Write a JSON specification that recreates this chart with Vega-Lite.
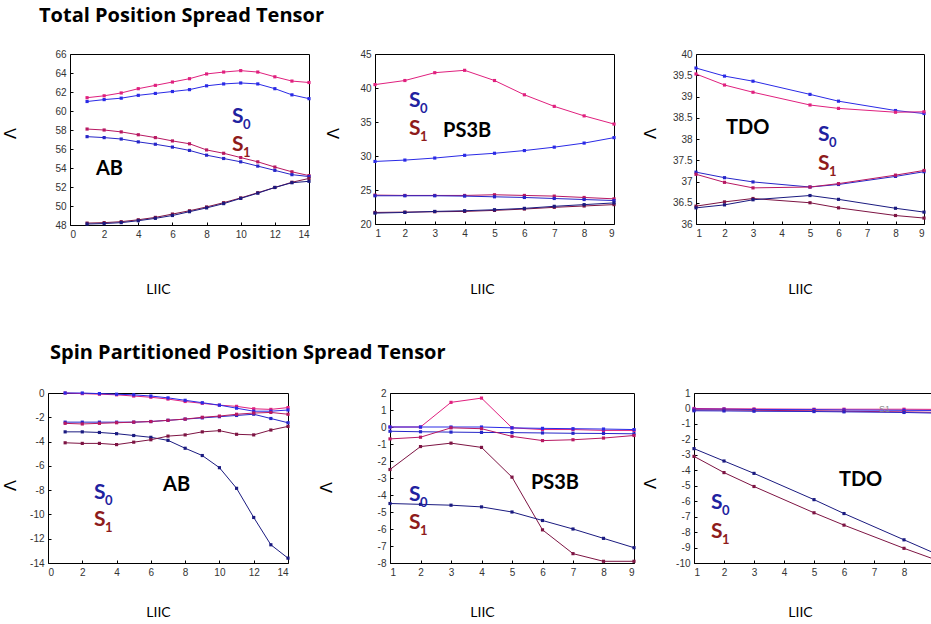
{
"$schema": "https://vega.github.io/schema/vega-lite/v6.json",
"padding": {"left": 1, "top": 5, "right": 0, "bottom": 0},
"background": "white",
"config": {
 "view": {"stroke": "#000", "strokeWidth": 1},
 "axis": {"domain": false, "grid": false, "labelFont": "Liberation Sans", "labelFontSize": 10, "labelColor": "#333", "tickColor": "#000", "tickSize": -3, "labelPadding": 7, "labelExpr": "replace(datum.label, '−', '-')"},
 "axisX": {"titleFont": "Lato", "titleFontSize": 14, "titleFontWeight": "normal", "titleColor": "#000", "titleBaseline": "middle", "titleAlign": "center"},
 "axisY": {"titleFont": "DejaVu Sans", "titleFontSize": 16, "titleFontWeight": "normal", "titleColor": "#000", "titleBaseline": "middle", "titleAlign": "center", "titleAngle": -90}
},
"datasets": {
"lines": [
{"p":"P1","l":"S1-1","x":1,"y":61.4},{"p":"P1","l":"S1-1","x":2,"y":61.6},{"p":"P1","l":"S1-1","x":3,"y":61.9},{"p":"P1","l":"S1-1","x":4,"y":62.35},{"p":"P1","l":"S1-1","x":5,"y":62.7},{"p":"P1","l":"S1-1","x":6,"y":63.05},{"p":"P1","l":"S1-1","x":7,"y":63.4},{"p":"P1","l":"S1-1","x":8,"y":63.9},{"p":"P1","l":"S1-1","x":9,"y":64.1},{"p":"P1","l":"S1-1","x":10,"y":64.25},{"p":"P1","l":"S1-1","x":11,"y":64.1},{"p":"P1","l":"S1-1","x":12,"y":63.6},{"p":"P1","l":"S1-1","x":13,"y":63.15},{"p":"P1","l":"S1-1","x":14,"y":63.0},
{"p":"P1","l":"S0-1","x":1,"y":61.0},{"p":"P1","l":"S0-1","x":2,"y":61.2},{"p":"P1","l":"S0-1","x":3,"y":61.35},{"p":"P1","l":"S0-1","x":4,"y":61.65},{"p":"P1","l":"S0-1","x":5,"y":61.85},{"p":"P1","l":"S0-1","x":6,"y":62.05},{"p":"P1","l":"S0-1","x":7,"y":62.25},{"p":"P1","l":"S0-1","x":8,"y":62.65},{"p":"P1","l":"S0-1","x":9,"y":62.85},{"p":"P1","l":"S0-1","x":10,"y":62.95},{"p":"P1","l":"S0-1","x":11,"y":62.85},{"p":"P1","l":"S0-1","x":12,"y":62.35},{"p":"P1","l":"S0-1","x":13,"y":61.7},{"p":"P1","l":"S0-1","x":14,"y":61.3},
{"p":"P1","l":"S1-2","x":1,"y":58.1},{"p":"P1","l":"S1-2","x":2,"y":58.0},{"p":"P1","l":"S1-2","x":3,"y":57.8},{"p":"P1","l":"S1-2","x":4,"y":57.5},{"p":"P1","l":"S1-2","x":5,"y":57.2},{"p":"P1","l":"S1-2","x":6,"y":56.85},{"p":"P1","l":"S1-2","x":7,"y":56.55},{"p":"P1","l":"S1-2","x":8,"y":55.9},{"p":"P1","l":"S1-2","x":9,"y":55.55},{"p":"P1","l":"S1-2","x":10,"y":55.1},{"p":"P1","l":"S1-2","x":11,"y":54.65},{"p":"P1","l":"S1-2","x":12,"y":54.1},{"p":"P1","l":"S1-2","x":13,"y":53.6},{"p":"P1","l":"S1-2","x":14,"y":53.2},
{"p":"P1","l":"S0-2","x":1,"y":57.3},{"p":"P1","l":"S0-2","x":2,"y":57.2},{"p":"P1","l":"S0-2","x":3,"y":57.05},{"p":"P1","l":"S0-2","x":4,"y":56.75},{"p":"P1","l":"S0-2","x":5,"y":56.5},{"p":"P1","l":"S0-2","x":6,"y":56.2},{"p":"P1","l":"S0-2","x":7,"y":55.85},{"p":"P1","l":"S0-2","x":8,"y":55.35},{"p":"P1","l":"S0-2","x":9,"y":55.0},{"p":"P1","l":"S0-2","x":10,"y":54.65},{"p":"P1","l":"S0-2","x":11,"y":54.2},{"p":"P1","l":"S0-2","x":12,"y":53.75},{"p":"P1","l":"S0-2","x":13,"y":53.3},{"p":"P1","l":"S0-2","x":14,"y":53.1},
{"p":"P1","l":"S1-3","x":1,"y":48.2},{"p":"P1","l":"S1-3","x":2,"y":48.25},{"p":"P1","l":"S1-3","x":3,"y":48.35},{"p":"P1","l":"S1-3","x":4,"y":48.55},{"p":"P1","l":"S1-3","x":5,"y":48.8},{"p":"P1","l":"S1-3","x":6,"y":49.15},{"p":"P1","l":"S1-3","x":7,"y":49.5},{"p":"P1","l":"S1-3","x":8,"y":49.9},{"p":"P1","l":"S1-3","x":9,"y":50.35},{"p":"P1","l":"S1-3","x":10,"y":50.85},{"p":"P1","l":"S1-3","x":11,"y":51.4},{"p":"P1","l":"S1-3","x":12,"y":51.95},{"p":"P1","l":"S1-3","x":13,"y":52.5},{"p":"P1","l":"S1-3","x":14,"y":52.9},
{"p":"P1","l":"S0-3","x":1,"y":48.1},{"p":"P1","l":"S0-3","x":2,"y":48.15},{"p":"P1","l":"S0-3","x":3,"y":48.25},{"p":"P1","l":"S0-3","x":4,"y":48.45},{"p":"P1","l":"S0-3","x":5,"y":48.7},{"p":"P1","l":"S0-3","x":6,"y":49.0},{"p":"P1","l":"S0-3","x":7,"y":49.4},{"p":"P1","l":"S0-3","x":8,"y":49.8},{"p":"P1","l":"S0-3","x":9,"y":50.25},{"p":"P1","l":"S0-3","x":10,"y":50.8},{"p":"P1","l":"S0-3","x":11,"y":51.35},{"p":"P1","l":"S0-3","x":12,"y":51.95},{"p":"P1","l":"S0-3","x":13,"y":52.45},{"p":"P1","l":"S0-3","x":14,"y":52.6},

{"p":"P2","l":"S1-1","x":1,"y":40.5},{"p":"P2","l":"S1-1","x":2,"y":41.1},{"p":"P2","l":"S1-1","x":3,"y":42.25},{"p":"P2","l":"S1-1","x":4,"y":42.6},{"p":"P2","l":"S1-1","x":5,"y":41.1},{"p":"P2","l":"S1-1","x":6,"y":39.0},{"p":"P2","l":"S1-1","x":7,"y":37.3},{"p":"P2","l":"S1-1","x":8,"y":35.9},{"p":"P2","l":"S1-1","x":9,"y":34.7},
{"p":"P2","l":"S0-1","x":1,"y":29.2},{"p":"P2","l":"S0-1","x":2,"y":29.4},{"p":"P2","l":"S0-1","x":3,"y":29.7},{"p":"P2","l":"S0-1","x":4,"y":30.1},{"p":"P2","l":"S0-1","x":5,"y":30.4},{"p":"P2","l":"S0-1","x":6,"y":30.8},{"p":"P2","l":"S0-1","x":7,"y":31.3},{"p":"P2","l":"S0-1","x":8,"y":31.9},{"p":"P2","l":"S0-1","x":9,"y":32.7},
{"p":"P2","l":"S1-2","x":1,"y":24.25},{"p":"P2","l":"S1-2","x":2,"y":24.2},{"p":"P2","l":"S1-2","x":3,"y":24.2},{"p":"P2","l":"S1-2","x":4,"y":24.2},{"p":"P2","l":"S1-2","x":5,"y":24.3},{"p":"P2","l":"S1-2","x":6,"y":24.2},{"p":"P2","l":"S1-2","x":7,"y":24.1},{"p":"P2","l":"S1-2","x":8,"y":23.9},{"p":"P2","l":"S1-2","x":9,"y":23.7},
{"p":"P2","l":"S0-2","x":1,"y":24.15},{"p":"P2","l":"S0-2","x":2,"y":24.15},{"p":"P2","l":"S0-2","x":3,"y":24.15},{"p":"P2","l":"S0-2","x":4,"y":24.1},{"p":"P2","l":"S0-2","x":5,"y":24.0},{"p":"P2","l":"S0-2","x":6,"y":23.9},{"p":"P2","l":"S0-2","x":7,"y":23.75},{"p":"P2","l":"S0-2","x":8,"y":23.6},{"p":"P2","l":"S0-2","x":9,"y":23.45},
{"p":"P2","l":"S1-3","x":1,"y":21.7},{"p":"P2","l":"S1-3","x":2,"y":21.75},{"p":"P2","l":"S1-3","x":3,"y":21.8},{"p":"P2","l":"S1-3","x":4,"y":21.85},{"p":"P2","l":"S1-3","x":5,"y":22.0},{"p":"P2","l":"S1-3","x":6,"y":22.2},{"p":"P2","l":"S1-3","x":7,"y":22.45},{"p":"P2","l":"S1-3","x":8,"y":22.65},{"p":"P2","l":"S1-3","x":9,"y":22.85},
{"p":"P2","l":"S0-3","x":1,"y":21.6},{"p":"P2","l":"S0-3","x":2,"y":21.7},{"p":"P2","l":"S0-3","x":3,"y":21.85},{"p":"P2","l":"S0-3","x":4,"y":21.95},{"p":"P2","l":"S0-3","x":5,"y":22.1},{"p":"P2","l":"S0-3","x":6,"y":22.3},{"p":"P2","l":"S0-3","x":7,"y":22.6},{"p":"P2","l":"S0-3","x":8,"y":22.85},{"p":"P2","l":"S0-3","x":9,"y":23.1},

{"p":"P3","l":"S0-1","x":1,"y":39.67},{"p":"P3","l":"S0-1","x":2,"y":39.48},{"p":"P3","l":"S0-1","x":3,"y":39.36},{"p":"P3","l":"S0-1","x":5,"y":39.05},{"p":"P3","l":"S0-1","x":6,"y":38.89},{"p":"P3","l":"S0-1","x":8,"y":38.67},{"p":"P3","l":"S0-1","x":9,"y":38.6},
{"p":"P3","l":"S1-1","x":1,"y":39.53},{"p":"P3","l":"S1-1","x":2,"y":39.27},{"p":"P3","l":"S1-1","x":3,"y":39.1},{"p":"P3","l":"S1-1","x":5,"y":38.8},{"p":"P3","l":"S1-1","x":6,"y":38.72},{"p":"P3","l":"S1-1","x":8,"y":38.63},{"p":"P3","l":"S1-1","x":9,"y":38.64},
{"p":"P3","l":"S0-2","x":1,"y":37.22},{"p":"P3","l":"S0-2","x":2,"y":37.09},{"p":"P3","l":"S0-2","x":3,"y":36.99},{"p":"P3","l":"S0-2","x":5,"y":36.87},{"p":"P3","l":"S0-2","x":6,"y":36.93},{"p":"P3","l":"S0-2","x":8,"y":37.12},{"p":"P3","l":"S0-2","x":9,"y":37.23},
{"p":"P3","l":"S1-2","x":1,"y":37.17},{"p":"P3","l":"S1-2","x":2,"y":36.98},{"p":"P3","l":"S1-2","x":3,"y":36.85},{"p":"P3","l":"S1-2","x":5,"y":36.87},{"p":"P3","l":"S1-2","x":6,"y":36.95},{"p":"P3","l":"S1-2","x":8,"y":37.15},{"p":"P3","l":"S1-2","x":9,"y":37.26},
{"p":"P3","l":"S1-3","x":1,"y":36.42},{"p":"P3","l":"S1-3","x":2,"y":36.52},{"p":"P3","l":"S1-3","x":3,"y":36.6},{"p":"P3","l":"S1-3","x":5,"y":36.5},{"p":"P3","l":"S1-3","x":6,"y":36.38},{"p":"P3","l":"S1-3","x":8,"y":36.2},{"p":"P3","l":"S1-3","x":9,"y":36.14},
{"p":"P3","l":"S0-3","x":1,"y":36.38},{"p":"P3","l":"S0-3","x":2,"y":36.45},{"p":"P3","l":"S0-3","x":3,"y":36.57},{"p":"P3","l":"S0-3","x":5,"y":36.67},{"p":"P3","l":"S0-3","x":6,"y":36.58},{"p":"P3","l":"S0-3","x":8,"y":36.37},{"p":"P3","l":"S0-3","x":9,"y":36.28},

{"p":"P4","l":"S1-1","x":1,"y":0},{"p":"P4","l":"S1-1","x":2,"y":-0.05},{"p":"P4","l":"S1-1","x":3,"y":-0.1},{"p":"P4","l":"S1-1","x":4,"y":-0.15},{"p":"P4","l":"S1-1","x":5,"y":-0.25},{"p":"P4","l":"S1-1","x":6,"y":-0.35},{"p":"P4","l":"S1-1","x":7,"y":-0.5},{"p":"P4","l":"S1-1","x":8,"y":-0.7},{"p":"P4","l":"S1-1","x":9,"y":-0.85},{"p":"P4","l":"S1-1","x":10,"y":-1.0},{"p":"P4","l":"S1-1","x":11,"y":-1.1},{"p":"P4","l":"S1-1","x":12,"y":-1.3},{"p":"P4","l":"S1-1","x":13,"y":-1.35},{"p":"P4","l":"S1-1","x":14,"y":-1.2},
{"p":"P4","l":"S0-1","x":1,"y":0},{"p":"P4","l":"S0-1","x":2,"y":0},{"p":"P4","l":"S0-1","x":3,"y":-0.05},{"p":"P4","l":"S0-1","x":4,"y":-0.1},{"p":"P4","l":"S0-1","x":5,"y":-0.15},{"p":"P4","l":"S0-1","x":6,"y":-0.25},{"p":"P4","l":"S0-1","x":7,"y":-0.4},{"p":"P4","l":"S0-1","x":8,"y":-0.6},{"p":"P4","l":"S0-1","x":9,"y":-0.8},{"p":"P4","l":"S0-1","x":10,"y":-1.0},{"p":"P4","l":"S0-1","x":11,"y":-1.25},{"p":"P4","l":"S0-1","x":12,"y":-1.5},{"p":"P4","l":"S0-1","x":13,"y":-1.5},{"p":"P4","l":"S0-1","x":14,"y":-1.4},
{"p":"P4","l":"S0-2","x":1,"y":-2.4},{"p":"P4","l":"S0-2","x":2,"y":-2.4},{"p":"P4","l":"S0-2","x":3,"y":-2.4},{"p":"P4","l":"S0-2","x":4,"y":-2.4},{"p":"P4","l":"S0-2","x":5,"y":-2.4},{"p":"P4","l":"S0-2","x":6,"y":-2.35},{"p":"P4","l":"S0-2","x":7,"y":-2.25},{"p":"P4","l":"S0-2","x":8,"y":-2.15},{"p":"P4","l":"S0-2","x":9,"y":-2.05},{"p":"P4","l":"S0-2","x":10,"y":-1.95},{"p":"P4","l":"S0-2","x":11,"y":-1.85},{"p":"P4","l":"S0-2","x":12,"y":-1.75},{"p":"P4","l":"S0-2","x":13,"y":-2.1},{"p":"P4","l":"S0-2","x":14,"y":-2.45},
{"p":"P4","l":"S1-2","x":1,"y":-2.5},{"p":"P4","l":"S1-2","x":2,"y":-2.55},{"p":"P4","l":"S1-2","x":3,"y":-2.5},{"p":"P4","l":"S1-2","x":4,"y":-2.45},{"p":"P4","l":"S1-2","x":5,"y":-2.4},{"p":"P4","l":"S1-2","x":6,"y":-2.35},{"p":"P4","l":"S1-2","x":7,"y":-2.25},{"p":"P4","l":"S1-2","x":8,"y":-2.15},{"p":"P4","l":"S1-2","x":9,"y":-2.0},{"p":"P4","l":"S1-2","x":10,"y":-1.9},{"p":"P4","l":"S1-2","x":11,"y":-1.75},{"p":"P4","l":"S1-2","x":12,"y":-1.65},{"p":"P4","l":"S1-2","x":13,"y":-1.6},{"p":"P4","l":"S1-2","x":14,"y":-1.75},
{"p":"P4","l":"S0-3","x":1,"y":-3.2},{"p":"P4","l":"S0-3","x":2,"y":-3.2},{"p":"P4","l":"S0-3","x":3,"y":-3.25},{"p":"P4","l":"S0-3","x":4,"y":-3.35},{"p":"P4","l":"S0-3","x":5,"y":-3.5},{"p":"P4","l":"S0-3","x":6,"y":-3.65},{"p":"P4","l":"S0-3","x":7,"y":-3.9},{"p":"P4","l":"S0-3","x":8,"y":-4.55},{"p":"P4","l":"S0-3","x":9,"y":-5.15},{"p":"P4","l":"S0-3","x":10,"y":-6.15},{"p":"P4","l":"S0-3","x":11,"y":-7.85},{"p":"P4","l":"S0-3","x":12,"y":-10.25},{"p":"P4","l":"S0-3","x":13,"y":-12.5},{"p":"P4","l":"S0-3","x":14,"y":-13.6},
{"p":"P4","l":"S1-3","x":1,"y":-4.1},{"p":"P4","l":"S1-3","x":2,"y":-4.15},{"p":"P4","l":"S1-3","x":3,"y":-4.15},{"p":"P4","l":"S1-3","x":4,"y":-4.25},{"p":"P4","l":"S1-3","x":5,"y":-4.05},{"p":"P4","l":"S1-3","x":6,"y":-3.85},{"p":"P4","l":"S1-3","x":7,"y":-3.55},{"p":"P4","l":"S1-3","x":8,"y":-3.45},{"p":"P4","l":"S1-3","x":9,"y":-3.2},{"p":"P4","l":"S1-3","x":10,"y":-3.1},{"p":"P4","l":"S1-3","x":11,"y":-3.4},{"p":"P4","l":"S1-3","x":12,"y":-3.45},{"p":"P4","l":"S1-3","x":13,"y":-3.05},{"p":"P4","l":"S1-3","x":14,"y":-2.75},

{"p":"P5","l":"S1-1","x":1,"y":0},{"p":"P5","l":"S1-1","x":2,"y":0},{"p":"P5","l":"S1-1","x":3,"y":1.45},{"p":"P5","l":"S1-1","x":4,"y":1.7},{"p":"P5","l":"S1-1","x":5,"y":-0.05},{"p":"P5","l":"S1-1","x":6,"y":-0.15},{"p":"P5","l":"S1-1","x":7,"y":-0.15},{"p":"P5","l":"S1-1","x":8,"y":-0.2},{"p":"P5","l":"S1-1","x":9,"y":-0.2},
{"p":"P5","l":"S0-1","x":1,"y":0},{"p":"P5","l":"S0-1","x":2,"y":0},{"p":"P5","l":"S0-1","x":3,"y":0},{"p":"P5","l":"S0-1","x":4,"y":0},{"p":"P5","l":"S0-1","x":5,"y":-0.05},{"p":"P5","l":"S0-1","x":6,"y":-0.08},{"p":"P5","l":"S0-1","x":7,"y":-0.1},{"p":"P5","l":"S0-1","x":8,"y":-0.12},{"p":"P5","l":"S0-1","x":9,"y":-0.15},
{"p":"P5","l":"S0-2","x":1,"y":-0.25},{"p":"P5","l":"S0-2","x":2,"y":-0.28},{"p":"P5","l":"S0-2","x":3,"y":-0.3},{"p":"P5","l":"S0-2","x":4,"y":-0.32},{"p":"P5","l":"S0-2","x":5,"y":-0.33},{"p":"P5","l":"S0-2","x":6,"y":-0.35},{"p":"P5","l":"S0-2","x":7,"y":-0.37},{"p":"P5","l":"S0-2","x":8,"y":-0.38},{"p":"P5","l":"S0-2","x":9,"y":-0.4},
{"p":"P5","l":"S1-2","x":1,"y":-0.7},{"p":"P5","l":"S1-2","x":2,"y":-0.6},{"p":"P5","l":"S1-2","x":3,"y":-0.05},{"p":"P5","l":"S1-2","x":4,"y":-0.1},{"p":"P5","l":"S1-2","x":5,"y":-0.55},{"p":"P5","l":"S1-2","x":6,"y":-0.8},{"p":"P5","l":"S1-2","x":7,"y":-0.75},{"p":"P5","l":"S1-2","x":8,"y":-0.65},{"p":"P5","l":"S1-2","x":9,"y":-0.5},
{"p":"P5","l":"S1-3","x":1,"y":-2.5},{"p":"P5","l":"S1-3","x":2,"y":-1.15},{"p":"P5","l":"S1-3","x":3,"y":-0.95},{"p":"P5","l":"S1-3","x":4,"y":-1.2},{"p":"P5","l":"S1-3","x":5,"y":-2.95},{"p":"P5","l":"S1-3","x":6,"y":-6.05},{"p":"P5","l":"S1-3","x":7,"y":-7.45},{"p":"P5","l":"S1-3","x":8,"y":-7.9},{"p":"P5","l":"S1-3","x":9,"y":-7.9},
{"p":"P5","l":"S0-3","x":1,"y":-4.5},{"p":"P5","l":"S0-3","x":2,"y":-4.55},{"p":"P5","l":"S0-3","x":3,"y":-4.6},{"p":"P5","l":"S0-3","x":4,"y":-4.7},{"p":"P5","l":"S0-3","x":5,"y":-5.0},{"p":"P5","l":"S0-3","x":6,"y":-5.5},{"p":"P5","l":"S0-3","x":7,"y":-6.0},{"p":"P5","l":"S0-3","x":8,"y":-6.55},{"p":"P5","l":"S0-3","x":9,"y":-7.1},

{"p":"P6","l":"S1-1","x":1,"y":0.0},{"p":"P6","l":"S1-1","x":2,"y":-0.02},{"p":"P6","l":"S1-1","x":3,"y":-0.03},{"p":"P6","l":"S1-1","x":5,"y":-0.05},{"p":"P6","l":"S1-1","x":6,"y":-0.05},{"p":"P6","l":"S1-1","x":8,"y":-0.05},{"p":"P6","l":"S1-1","x":9,"y":-0.06},
{"p":"P6","l":"S0-1","x":1,"y":-0.05},{"p":"P6","l":"S0-1","x":2,"y":-0.05},{"p":"P6","l":"S0-1","x":3,"y":-0.07},{"p":"P6","l":"S0-1","x":5,"y":-0.08},{"p":"P6","l":"S0-1","x":6,"y":-0.1},{"p":"P6","l":"S0-1","x":8,"y":-0.12},{"p":"P6","l":"S0-1","x":9,"y":-0.13},
{"p":"P6","l":"S1-2","x":1,"y":-0.1},{"p":"P6","l":"S1-2","x":2,"y":-0.1},{"p":"P6","l":"S1-2","x":3,"y":-0.12},{"p":"P6","l":"S1-2","x":5,"y":-0.15},{"p":"P6","l":"S1-2","x":6,"y":-0.18},{"p":"P6","l":"S1-2","x":8,"y":-0.22},{"p":"P6","l":"S1-2","x":9,"y":-0.25},
{"p":"P6","l":"S0-2","x":1,"y":-0.15},{"p":"P6","l":"S0-2","x":2,"y":-0.16},{"p":"P6","l":"S0-2","x":3,"y":-0.18},{"p":"P6","l":"S0-2","x":5,"y":-0.2},{"p":"P6","l":"S0-2","x":6,"y":-0.22},{"p":"P6","l":"S0-2","x":8,"y":-0.26},{"p":"P6","l":"S0-2","x":9,"y":-0.3},
{"p":"P6","l":"S0-3","x":1,"y":-2.6},{"p":"P6","l":"S0-3","x":2,"y":-3.4},{"p":"P6","l":"S0-3","x":3,"y":-4.2},{"p":"P6","l":"S0-3","x":5,"y":-5.9},{"p":"P6","l":"S0-3","x":6,"y":-6.8},{"p":"P6","l":"S0-3","x":8,"y":-8.5},{"p":"P6","l":"S0-3","x":9,"y":-9.35},
{"p":"P6","l":"S1-3","x":1,"y":-3.1},{"p":"P6","l":"S1-3","x":2,"y":-4.15},{"p":"P6","l":"S1-3","x":3,"y":-5.05},{"p":"P6","l":"S1-3","x":5,"y":-6.75},{"p":"P6","l":"S1-3","x":6,"y":-7.55},{"p":"P6","l":"S1-3","x":8,"y":-9.05},{"p":"P6","l":"S1-3","x":9,"y":-9.75}
],
"ann": [
{"p":"P1","g":"lbl","t":"AB","x":1.52,"y":53.9},
{"p":"P1","g":"S0","t":"S","sub":"0","x":9.49,"y":59.37},
{"p":"P1","g":"S1","t":"S","sub":"1","x":9.49,"y":56.42},
{"p":"P2","g":"S0","t":"S","sub":"0","x":2.14,"y":38.09},
{"p":"P2","g":"S1","t":"S","sub":"1","x":2.14,"y":33.97},
{"p":"P2","g":"lbl","t":"PS3B","x":3.28,"y":33.68},
{"p":"P3","g":"lbl","t":"TDO","x":2.05,"y":38.26},
{"p":"P3","g":"S0","t":"S","sub":"0","x":5.28,"y":38.09},
{"p":"P3","g":"S1","t":"S","sub":"1","x":5.28,"y":37.41},
{"p":"P4","g":"S0","t":"S","sub":"0","x":2.68,"y":-8.24},
{"p":"P4","g":"S1","t":"S","sub":"1","x":2.68,"y":-10.46},
{"p":"P4","g":"lbl","t":"AB","x":6.71,"y":-7.58},
{"p":"P5","g":"S0","t":"S","sub":"0","x":1.62,"y":-4.0},
{"p":"P5","g":"S1","t":"S","sub":"1","x":1.62,"y":-5.65},
{"p":"P5","g":"lbl","t":"PS3B","x":5.62,"y":-3.29},
{"p":"P6","g":"lbl","t":"TDO","x":5.83,"y":-4.63},
{"p":"P6","g":"S0","t":"S","sub":"0","x":1.57,"y":-6.12},
{"p":"P6","g":"S1","t":"S","sub":"1","x":1.57,"y":-8.0},
{"p":"P6","g":"leg","t":"S1","x":7.17,"y":-0.04}
],
"none": []
},
"resolve": {"scale": {"x": "independent", "y": "independent"}},
"spacing": 45,
"vconcat": [
{
 "bounds": "flush", "spacing": 0,
 "resolve": {"scale": {"x": "independent", "y": "independent"}},
 "hconcat": [
  {"width": 22, "height": 171, "view": {"stroke": null}, "data": {"name": "none"}, "mark": {"type": "point", "opacity": 0}, "encoding": {}},
  {
 "bounds": "flush", "spacing": 66,
 "resolve": {"scale": {"x": "independent", "y": "independent"}},
 "hconcat": [
  {
   "width": 239, "height": 171,
   "title": {"text": "Total Position Spread Tensor", "anchor": "start", "frame": "group", "dx": -31, "offset": 23, "font": "Open Sans", "fontSize": 20, "fontWeight": "bold", "color": "#000"},
   "encoding": {
    "x": {"field": "x", "type": "quantitative", "scale": {"domain": [0, 14], "nice": false}, "axis": {"values": [0,2,4,6,8,10,12,14], "title": "LIIC", "titleX": 88, "titleY": 64}},
    "y": {"field": "y", "type": "quantitative", "scale": {"domain": [48, 66], "nice": false, "zero": false}, "axis": {"values": [48,50,52,54,56,58,60,62,64,66], "title": "Λ", "titleX": -60, "titleY": 79}}
   },
   "layer": [
    {"data": {"name": "lines"}, "transform": [{"filter": "datum.p == 'P1'"}], "mark": {"type": "line", "strokeWidth": 1, "point": {"shape": "square", "size": 10, "filled": true}}, "encoding": {"color": {"field": "l", "type": "nominal", "legend": null, "scale": {"domain": ["S0-1","S0-2","S0-3","S1-1","S1-2","S1-3","S0","S1","lbl","leg"], "range": ["#2a2ae6","#2626c8","#1a1a80","#e0207e","#b81862","#7d1443","#1f22a0","#8e1b1b","#000000","#8a8a8a"]}}}},
    {"data": {"name": "ann"}, "transform": [{"filter": "datum.p == 'P1' && (datum.g == 'S0' || datum.g == 'S1')"}], "mark": {"type": "text", "font": "Lato", "fontSize": 21, "fontWeight": "bold", "align": "left", "baseline": "middle"}, "encoding": {"text": {"field": "t"}, "color": {"field": "g", "type": "nominal", "legend": null}}},
    {"data": {"name": "ann"}, "transform": [{"filter": "datum.p == 'P1' && (datum.g == 'S0' || datum.g == 'S1')"}], "mark": {"type": "text", "font": "Lato", "fontSize": 13, "fontWeight": "bold", "align": "left", "baseline": "middle", "dx": 11, "dy": 8}, "encoding": {"text": {"field": "sub"}, "color": {"field": "g", "type": "nominal", "legend": null}}},
    {"data": {"name": "ann"}, "transform": [{"filter": "datum.p == 'P1' && datum.g == 'lbl'"}], "mark": {"type": "text", "font": "Lato", "fontSize": 20, "fontWeight": "bold", "align": "left", "baseline": "middle"}, "encoding": {"text": {"field": "t"}, "color": {"field": "g", "type": "nominal", "legend": null}}}
   ]
  },
  {
   "bounds": "flush", "spacing": 82,
   "resolve": {"scale": {"x": "independent", "y": "independent"}},
   "hconcat": [
    {
     "width": 239, "height": 170,
     "encoding": {
      "x": {"field": "x", "type": "quantitative", "scale": {"domain": [1, 9], "nice": false}, "axis": {"values": [1,2,3,4,5,6,7,8,9], "title": "LIIC", "titleX": 107, "titleY": 65}},
      "y": {"field": "y", "type": "quantitative", "scale": {"domain": [20, 45], "nice": false, "zero": false}, "axis": {"values": [20,25,30,35,40,45], "title": "Λ", "titleX": -42, "titleY": 79}}
     },
     "layer": [
      {"data": {"name": "lines"}, "transform": [{"filter": "datum.p == 'P2'"}], "mark": {"type": "line", "strokeWidth": 1, "point": {"shape": "square", "size": 10, "filled": true}}, "encoding": {"color": {"field": "l", "type": "nominal", "legend": null}}},
      {"data": {"name": "ann"}, "transform": [{"filter": "datum.p == 'P2' && (datum.g == 'S0' || datum.g == 'S1')"}], "mark": {"type": "text", "font": "Lato", "fontSize": 21, "fontWeight": "bold", "align": "left", "baseline": "middle"}, "encoding": {"text": {"field": "t"}, "color": {"field": "g", "type": "nominal", "legend": null}}},
      {"data": {"name": "ann"}, "transform": [{"filter": "datum.p == 'P2' && (datum.g == 'S0' || datum.g == 'S1')"}], "mark": {"type": "text", "font": "Lato", "fontSize": 13, "fontWeight": "bold", "align": "left", "baseline": "middle", "dx": 11, "dy": 8}, "encoding": {"text": {"field": "sub"}, "color": {"field": "g", "type": "nominal", "legend": null}}},
      {"data": {"name": "ann"}, "transform": [{"filter": "datum.p == 'P2' && datum.g == 'lbl'"}], "mark": {"type": "text", "font": "Lato", "fontSize": 20, "fontWeight": "bold", "align": "left", "baseline": "middle"}, "encoding": {"text": {"field": "t"}, "color": {"field": "g", "type": "nominal", "legend": null}}}
     ]
    },
    {
     "width": 228, "height": 170,
     "encoding": {
      "x": {"field": "x", "type": "quantitative", "scale": {"domain": [1, 9], "nice": false}, "axis": {"values": [1,2,3,4,5,6,7,8,9], "title": "LIIC", "titleX": 104, "titleY": 65}},
      "y": {"field": "y", "type": "quantitative", "scale": {"domain": [36, 40], "nice": false, "zero": false}, "axis": {"values": [36,36.5,37,37.5,38,38.5,39,39.5,40], "format": "~g", "title": "Λ", "titleX": -46, "titleY": 79}}
     },
     "layer": [
      {"data": {"name": "lines"}, "transform": [{"filter": "datum.p == 'P3'"}], "mark": {"type": "line", "strokeWidth": 1, "point": {"shape": "square", "size": 10, "filled": true}}, "encoding": {"color": {"field": "l", "type": "nominal", "legend": null}}},
      {"data": {"name": "ann"}, "transform": [{"filter": "datum.p == 'P3' && (datum.g == 'S0' || datum.g == 'S1')"}], "mark": {"type": "text", "font": "Lato", "fontSize": 21, "fontWeight": "bold", "align": "left", "baseline": "middle"}, "encoding": {"text": {"field": "t"}, "color": {"field": "g", "type": "nominal", "legend": null}}},
      {"data": {"name": "ann"}, "transform": [{"filter": "datum.p == 'P3' && (datum.g == 'S0' || datum.g == 'S1')"}], "mark": {"type": "text", "font": "Lato", "fontSize": 13, "fontWeight": "bold", "align": "left", "baseline": "middle", "dx": 11, "dy": 8}, "encoding": {"text": {"field": "sub"}, "color": {"field": "g", "type": "nominal", "legend": null}}},
      {"data": {"name": "ann"}, "transform": [{"filter": "datum.p == 'P3' && datum.g == 'lbl'"}], "mark": {"type": "text", "font": "Lato", "fontSize": 20, "fontWeight": "bold", "align": "left", "baseline": "middle"}, "encoding": {"text": {"field": "t"}, "color": {"field": "g", "type": "nominal", "legend": null}}}
     ]
    }
   ]
  }
 ]
  }
 ]
},
{
 "bounds": "flush", "spacing": 102,
 "resolve": {"scale": {"x": "independent", "y": "independent"}},
 "hconcat": [
  {
   "width": 240, "height": 170,
   "title": {"text": "Spin Partitioned Position Spread Tensor", "anchor": "start", "frame": "group", "dx": 2, "offset": 25, "font": "Open Sans", "fontSize": 20, "fontWeight": "bold", "color": "#000"},
   "encoding": {
    "x": {"field": "x", "type": "quantitative", "scale": {"domain": [0, 14], "nice": false}, "axis": {"values": [0,2,4,6,8,10,12,14], "title": "LIIC", "titleX": 110, "titleY": 49}},
    "y": {"field": "y", "type": "quantitative", "scale": {"domain": [-14, 0], "nice": false, "zero": false}, "axis": {"values": [-14,-12,-10,-8,-6,-4,-2,0], "title": "Λ", "titleX": -38, "titleY": 92}}
   },
   "layer": [
    {"data": {"name": "lines"}, "transform": [{"filter": "datum.p == 'P4'"}], "mark": {"type": "line", "strokeWidth": 1, "point": {"shape": "square", "size": 10, "filled": true}}, "encoding": {"color": {"field": "l", "type": "nominal", "legend": null}}},
    {"data": {"name": "ann"}, "transform": [{"filter": "datum.p == 'P4' && (datum.g == 'S0' || datum.g == 'S1')"}], "mark": {"type": "text", "font": "Lato", "fontSize": 21, "fontWeight": "bold", "align": "left", "baseline": "middle"}, "encoding": {"text": {"field": "t"}, "color": {"field": "g", "type": "nominal", "legend": null}}},
    {"data": {"name": "ann"}, "transform": [{"filter": "datum.p == 'P4' && (datum.g == 'S0' || datum.g == 'S1')"}], "mark": {"type": "text", "font": "Lato", "fontSize": 13, "fontWeight": "bold", "align": "left", "baseline": "middle", "dx": 11, "dy": 8}, "encoding": {"text": {"field": "sub"}, "color": {"field": "g", "type": "nominal", "legend": null}}},
    {"data": {"name": "ann"}, "transform": [{"filter": "datum.p == 'P4' && datum.g == 'lbl'"}], "mark": {"type": "text", "font": "Lato", "fontSize": 20, "fontWeight": "bold", "align": "left", "baseline": "middle"}, "encoding": {"text": {"field": "t"}, "color": {"field": "g", "type": "nominal", "legend": null}}}
   ]
  },
  {
   "bounds": "flush", "spacing": 60,
   "resolve": {"scale": {"x": "independent", "y": "independent"}},
   "hconcat": [
    {
     "width": 244, "height": 170,
     "encoding": {
      "x": {"field": "x", "type": "quantitative", "scale": {"domain": [1, 9], "nice": false}, "axis": {"values": [1,2,3,4,5,6,7,8,9], "title": "LIIC", "titleX": 92, "titleY": 49}},
      "y": {"field": "y", "type": "quantitative", "scale": {"domain": [-8, 2], "nice": false, "zero": false}, "axis": {"values": [-8,-7,-6,-5,-4,-3,-2,-1,0,1,2], "title": "Λ", "titleX": -64, "titleY": 94}}
     },
     "layer": [
      {"data": {"name": "lines"}, "transform": [{"filter": "datum.p == 'P5'"}], "mark": {"type": "line", "strokeWidth": 1, "point": {"shape": "square", "size": 10, "filled": true}}, "encoding": {"color": {"field": "l", "type": "nominal", "legend": null}}},
      {"data": {"name": "ann"}, "transform": [{"filter": "datum.p == 'P5' && (datum.g == 'S0' || datum.g == 'S1')"}], "mark": {"type": "text", "font": "Lato", "fontSize": 21, "fontWeight": "bold", "align": "left", "baseline": "middle"}, "encoding": {"text": {"field": "t"}, "color": {"field": "g", "type": "nominal", "legend": null}}},
      {"data": {"name": "ann"}, "transform": [{"filter": "datum.p == 'P5' && (datum.g == 'S0' || datum.g == 'S1')"}], "mark": {"type": "text", "font": "Lato", "fontSize": 13, "fontWeight": "bold", "align": "left", "baseline": "middle", "dx": 11, "dy": 8}, "encoding": {"text": {"field": "sub"}, "color": {"field": "g", "type": "nominal", "legend": null}}},
      {"data": {"name": "ann"}, "transform": [{"filter": "datum.p == 'P5' && datum.g == 'lbl'"}], "mark": {"type": "text", "font": "Lato", "fontSize": 20, "fontWeight": "bold", "align": "left", "baseline": "middle"}, "encoding": {"text": {"field": "t"}, "color": {"field": "g", "type": "nominal", "legend": null}}}
     ]
    },
    {
     "width": 240, "height": 170,
     "encoding": {
      "x": {"field": "x", "type": "quantitative", "scale": {"domain": [1, 9], "nice": false}, "axis": {"values": [1,2,3,4,5,6,7,8], "title": "LIIC", "titleX": 106, "titleY": 49}},
      "y": {"field": "y", "type": "quantitative", "scale": {"domain": [-10, 1], "nice": false, "zero": false}, "axis": {"values": [-10,-9,-8,-7,-6,-5,-4,-3,-2,-1,0,1], "title": "Λ", "titleX": -44, "titleY": 90}}
     },
     "layer": [
      {"data": {"name": "lines"}, "transform": [{"filter": "datum.p == 'P6'"}], "mark": {"type": "line", "strokeWidth": 1, "point": {"shape": "square", "size": 10, "filled": true}}, "encoding": {"color": {"field": "l", "type": "nominal", "legend": null}}},
      {"data": {"name": "ann"}, "transform": [{"filter": "datum.p == 'P6' && (datum.g == 'S0' || datum.g == 'S1')"}], "mark": {"type": "text", "font": "Lato", "fontSize": 21, "fontWeight": "bold", "align": "left", "baseline": "middle"}, "encoding": {"text": {"field": "t"}, "color": {"field": "g", "type": "nominal", "legend": null}}},
      {"data": {"name": "ann"}, "transform": [{"filter": "datum.p == 'P6' && (datum.g == 'S0' || datum.g == 'S1')"}], "mark": {"type": "text", "font": "Lato", "fontSize": 13, "fontWeight": "bold", "align": "left", "baseline": "middle", "dx": 11, "dy": 8}, "encoding": {"text": {"field": "sub"}, "color": {"field": "g", "type": "nominal", "legend": null}}},
      {"data": {"name": "ann"}, "transform": [{"filter": "datum.p == 'P6' && datum.g == 'lbl'"}], "mark": {"type": "text", "font": "Lato", "fontSize": 20, "fontWeight": "bold", "align": "left", "baseline": "middle"}, "encoding": {"text": {"field": "t"}, "color": {"field": "g", "type": "nominal", "legend": null}}},
      {"data": {"name": "ann"}, "transform": [{"filter": "datum.p == 'P6' && datum.g == 'leg'"}], "mark": {"type": "text", "font": "Liberation Sans", "fontSize": 9, "align": "left", "baseline": "middle"}, "encoding": {"text": {"field": "t"}, "color": {"field": "g", "type": "nominal", "legend": null}}}
     ]
    }
   ]
  }
 ]
}
]
}
